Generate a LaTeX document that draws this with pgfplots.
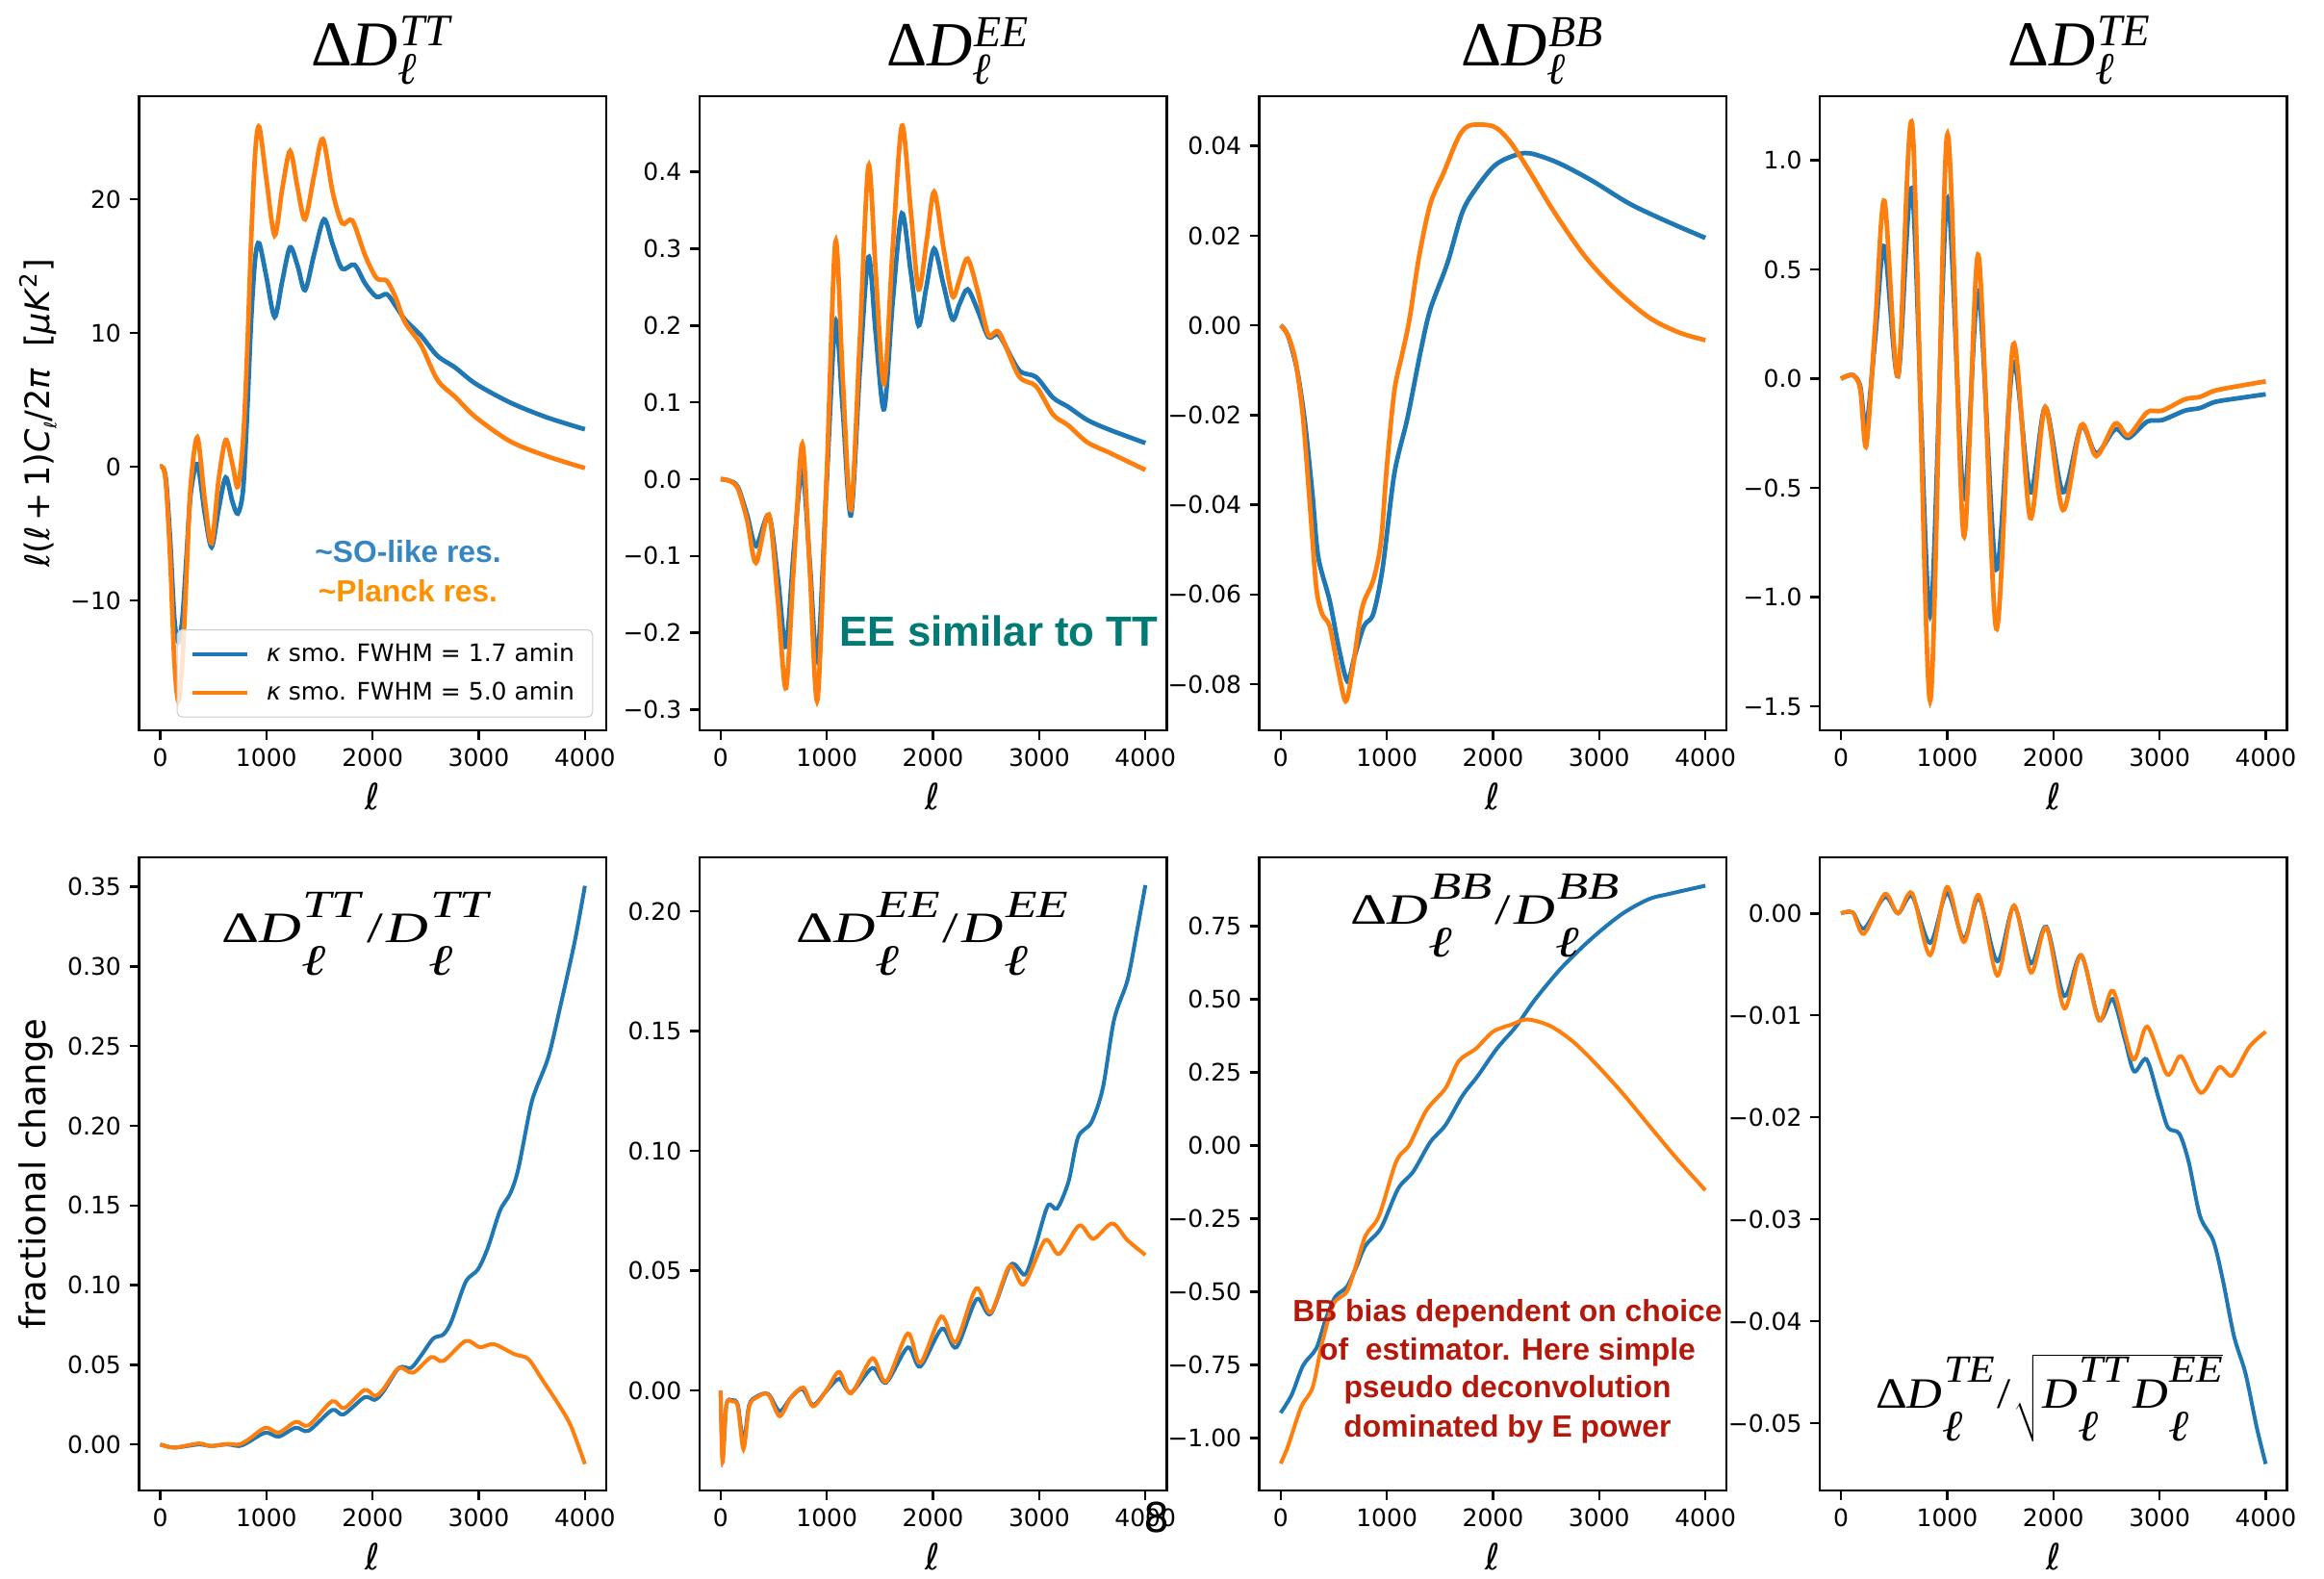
\documentclass[border=0pt]{standalone}
\usepackage{fontspec}
\setmainfont{DejaVu Sans}
\newfontfamily\annfont{Liberation Sans}
\newfontfamily\tfont{Liberation Serif}
\usepackage{graphicx}
\usepackage{pgfplots}
\pgfplotsset{compat=1.18}

\definecolor{tabblue}{HTML}{1F77B4}
\definecolor{taborange}{HTML}{FF7F0E}
\definecolor{soblue}{RGB}{52,133,192}
\definecolor{plorange}{RGB}{255,145,0}
\definecolor{eeteal}{RGB}{0,122,116}
\definecolor{bbred}{RGB}{180,24,10}
\definecolor{legframe}{RGB}{204,204,204}

\newcommand{\lell}{\textit{ℓ}}
\newcommand{\lsub}{\raisebox{-0.35ex}{\scriptsize\itshape ℓ}}
% D_ell^{XY} for the panel titles (27pt body) and for the ratio labels (18pt body)
\newcommand{\TD}[1]{\textit{D}\makebox[0pt][l]{\raisebox{-0.29em}{\fontsize{19}{19}\selectfont\textit{ℓ}}}\kern0.03em\raisebox{0.31em}{\fontsize{19}{19}\selectfont\textit{#1}}}
\newcommand{\BD}[1]{\textit{D}\makebox[0pt][l]{\raisebox{-0.75em}{\textit{ℓ}}}\kern0.03em\raisebox{0.59em}{\fontsize{16}{16}\selectfont\textit{#1}}}
\newcommand{\toptitle}[1]{\resizebox{59pt}{!}{\tfont\fontsize{27}{30}\selectfont Δ\TD{#1}}}
\newcommand{\ratio}[2]{\resizebox{#1}{\height}{\tfont\fontsize{18}{20}\selectfont Δ\BD{#2}\kern1pt/\kern1pt\BD{#2}}}

\pgfplotsset{
  panel/.style={
    scale only axis, width=194.2pt,
    xmin=-200, xmax=4200,
    xtick={0,1000,2000,3000,4000},
    xticklabels={0,1000,2000,3000,4000},
    scaled ticks=false,
    tick align=outside, tick pos=left,
    major tick length=3.9pt,
    tick style={black, line width=1pt},
    axis line style={line width=1pt},
    ticklabel style={font=\fontsize{10}{12}\selectfont},
    xlabel={\lell},
    xlabel style={at={([yshift=-27.6pt]axis description cs:0.5,0)}, anchor=center,
      font=\fontsize{15}{18}\selectfont},
    ylabel style={font=\fontsize{14.8}{18}\selectfont},
  },
  toprow/.style={panel, height=263.6pt},
  botrow/.style={panel, height=263.2pt},
  bT/.style={tabblue, line width=1.9pt, smooth},
  oT/.style={taborange, line width=1.9pt, smooth},
  bB/.style={tabblue, line width=1.6pt, smooth},
  oB/.style={taborange, line width=1.6pt, smooth},
}

\begin{document}
\begin{tikzpicture}
\fill[white] (0,0) rectangle (966pt,656pt);
\useasboundingbox (0,0) rectangle (966pt,656pt);

% ---------------- top row: Delta D_ell ----------------
\begin{axis}[toprow, at={(57.76pt,352.4pt)}, anchor=south west,
  ymin=-19.7, ymax=27.7,
  ytick={-10,0,10,20}, yticklabels={−10,0,10,20},
  ylabel={\lell(\lell\,+\,1)\textit{C}\lsub/2\textit{π}\ \ [\textit{μK}\textsuperscript{2}]},
  ylabel style={at={([xshift=-41.8pt]axis description cs:0,0.5)}, anchor=center,
    font=\fontsize{14}{17}\selectfont},
  legend style={at={(0.972,0.0203)}, anchor=south east, draw=legframe,
    rounded corners=2pt, fill=white, fill opacity=0.8, draw opacity=1, text opacity=1,
    font=\fontsize{10}{12}\selectfont, inner xsep=5.5pt, inner ysep=3.5pt, row sep=3pt,
    cells={anchor=west}, /tikz/every odd column/.append style={column sep=5pt}},
  legend image code/.code={\draw[#1, line width=1.7pt] (0pt,0pt) -- (23pt,0pt);},
]
\addplot[bT] coordinates {(0,0) (30,-0.1) (57,-1.2) (95,-5.6) (133,-11.3) (171,-13.1) (210,-11.3) (248,-6.7) (286,-2.1) (350,0.2) (420,-3.5) (484,-6.0) (550,-3.2) (617,-0.8) (680,-2.6) (731,-3.5) (781,-1.7) (819,4) (857,11) (895,15.6) (933,16.7) (1000,14.2) (1078,11.2) (1150,13.9) (1223,16.4) (1295,15.0) (1364,13.2) (1450,15.9) (1543,18.5) (1625,16.6) (1714,14.8) (1829,15.1) (1930,13.7) (2038,12.7) (2134,12.9) (2220,12.0) (2305,11.0) (2457,9.8) (2610,8.3) (2781,7.4) (2972,6.2) (3296,4.8) (3638,3.7) (4000,2.8)};
\addlegendentry{\textit{κ} smo. FWHM = 1.7 amin}
\addplot[oT] coordinates {(0,0) (30,-0.1) (57,-1.5) (95,-7) (133,-14.5) (171,-17.5) (210,-14.5) (248,-8) (286,-1.5) (350,2.2) (420,-2.5) (484,-5.7) (550,-1.0) (617,2.0) (680,0.2) (731,-1.5) (781,2) (819,8.5) (857,17) (895,23.5) (933,25.4) (1000,21.5) (1078,17.3) (1150,20.8) (1223,23.6) (1295,20.8) (1364,18.5) (1450,21.8) (1531,24.5) (1625,20.5) (1714,18.2) (1810,18.4) (1930,15.8) (2038,14.1) (2134,13.9) (2220,12.6) (2305,10.8) (2457,9.1) (2610,6.5) (2781,5.2) (2972,3.7) (3296,1.9) (3638,0.8) (4000,-0.1)};
\addlegendentry{\textit{κ} smo. FWHM = 5.0 amin}
\end{axis}

\begin{axis}[toprow, at={(290.72pt,352.4pt)}, anchor=south west,
  ymin=-0.327, ymax=0.4985,
  ytick={-0.3,-0.2,-0.1,0,0.1,0.2,0.3,0.4},
  yticklabels={−0.3,−0.2,−0.1,0.0,0.1,0.2,0.3,0.4},
]
\addplot[bT] coordinates {(0,0) (80,-0.002) (161,-0.010) (250,-0.047) (333,-0.087) (454,-0.047) (540,-0.13) (615,-0.218) (690,-0.09) (769,0.012) (840,-0.11) (912,-0.235) (1000,0.0) (1081,0.205) (1150,0.09) (1227,-0.047) (1310,0.14) (1392,0.289) (1460,0.19) (1539,0.091) (1620,0.23) (1707,0.346) (1790,0.27) (1864,0.200) (1937,0.25) (2011,0.300) (2097,0.254) (2183,0.208) (2250,0.228) (2326,0.247) (2420,0.22) (2522,0.185) (2623,0.187) (2809,0.142) (2970,0.133) (3131,0.106) (3274,0.094) (3453,0.077) (3667,0.064) (4000,0.047)};
\addplot[oT] coordinates {(0,0) (80,-0.002) (161,-0.012) (250,-0.054) (333,-0.109) (454,-0.046) (540,-0.16) (615,-0.272) (690,-0.11) (769,0.046) (840,-0.12) (912,-0.287) (1000,0.01) (1081,0.309) (1150,0.13) (1227,-0.040) (1310,0.18) (1392,0.408) (1460,0.27) (1539,0.124) (1620,0.30) (1707,0.460) (1790,0.35) (1864,0.247) (1940,0.31) (2011,0.374) (2100,0.30) (2183,0.238) (2250,0.26) (2326,0.287) (2420,0.245) (2522,0.188) (2623,0.191) (2809,0.134) (2970,0.121) (3131,0.084) (3274,0.070) (3453,0.048) (3667,0.034) (4000,0.012)};
\end{axis}

\begin{axis}[toprow, at={(523.48pt,352.4pt)}, anchor=south west,
  ymin=-0.0903, ymax=0.0511,
  ytick={-0.08,-0.06,-0.04,-0.02,0,0.02,0.04},
  yticklabels={−0.08,−0.06,−0.04,−0.02,0.00,0.02,0.04},
]
\addplot[bT] coordinates {(0,0) (68,-0.0022) (157,-0.0102) (229,-0.0217) (300,-0.0378) (354,-0.0516) (462,-0.0614) (551,-0.0723) (630,-0.0794) (694,-0.074) (784,-0.0671) (873,-0.0643) (962,-0.0539) (1070,-0.0332) (1195,-0.0206) (1320,-0.0056) (1410,0.0036) (1571,0.0139) (1714,0.0254) (1857,0.0311) (2018,0.0357) (2179,0.0377) (2340,0.0384) (2608,0.0363) (2930,0.0323) (3288,0.0271) (3646,0.0231) (4000,0.0195)};
\addplot[oT] coordinates {(0,0) (68,-0.0022) (140,-0.0079) (211,-0.0206) (283,-0.0424) (336,-0.0585) (390,-0.0643) (462,-0.0671) (533,-0.0757) (612,-0.0838) (676,-0.0769) (766,-0.0631) (873,-0.0568) (945,-0.0482) (998,-0.0321) (1070,-0.0148) (1141,-0.0068) (1213,0.0013) (1302,0.0151) (1410,0.0271) (1535,0.0340) (1678,0.0421) (1785,0.0446) (2000,0.0444) (2143,0.0415) (2322,0.0352) (2573,0.0254) (2859,0.0156) (3145,0.0082) (3467,0.0018) (3753,-0.0016) (4000,-0.0033)};
\end{axis}

\begin{axis}[toprow, at={(756.4pt,352.4pt)}, anchor=south west,
  ymin=-1.609, ymax=1.293,
  ytick={-1.5,-1,-0.5,0,0.5,1},
  yticklabels={−1.5,−1.0,−0.5,0.0,0.5,1.0},
]
\addplot[bT] coordinates {(0,0) (110,0.017) (181,-0.035) (238,-0.224) (323,0.19) (409,0.606) (537,0.012) (672,0.856) (839,-1.085) (999,0.823) (1156,-0.542) (1294,0.401) (1462,-0.873) (1622,0.075) (1782,-0.519) (1924,-0.13) (2091,-0.519) (2262,-0.219) (2404,-0.342) (2582,-0.231) (2706,-0.271) (2884,-0.196) (3026,-0.189) (3239,-0.146) (3382,-0.134) (3524,-0.106) (3773,-0.087) (4000,-0.071)};
\addplot[oT] coordinates {(0,0) (110,0.017) (181,-0.047) (238,-0.307) (323,0.25) (409,0.814) (537,0.012) (672,1.156) (839,-1.474) (999,1.116) (1156,-0.719) (1294,0.566) (1462,-1.144) (1622,0.158) (1782,-0.637) (1924,-0.13) (2091,-0.601) (2262,-0.212) (2404,-0.354) (2582,-0.205) (2706,-0.259) (2884,-0.153) (3026,-0.146) (3239,-0.094) (3382,-0.083) (3524,-0.054) (3773,-0.031) (4000,-0.012)};
\end{axis}

% ---------------- bottom row: fractional change ----------------
\begin{axis}[botrow, at={(57.76pt,36.4pt)}, anchor=south west,
  ymin=-0.0289, ymax=0.3685,
  ytick={0,0.05,0.1,0.15,0.2,0.25,0.3,0.35},
  yticklabels={0.00,0.05,0.10,0.15,0.20,0.25,0.30,0.35},
  ylabel={fractional change},
  ylabel style={at={([xshift=-43pt]axis description cs:0,0.5)}, anchor=center},
]
\addplot[bB] coordinates {(0,0) (133,-0.002) (362,0) (476,-0.001) (629,0) (743,-0.001) (819,0.001) (991,0.0074) (1116,0.0049) (1276,0.0105) (1398,0.0086) (1619,0.0216) (1726,0.0188) (1924,0.0296) (2019,0.028) (2096,0.0327) (2248,0.048) (2362,0.048) (2457,0.0558) (2572,0.0665) (2667,0.069) (2743,0.0773) (2877,0.102) (2991,0.1097) (3086,0.1235) (3200,0.1467) (3296,0.1574) (3372,0.1728) (3486,0.2114) (3543,0.2237) (3658,0.2437) (3772,0.276) (3905,0.316) (4000,0.3506)};
\addplot[oB] coordinates {(0,0) (133,-0.002) (362,0.0006) (476,-0.001) (629,0.0003) (743,0) (838,0.0034) (991,0.0105) (1116,0.0074) (1276,0.0142) (1398,0.012) (1619,0.0271) (1733,0.0228) (1924,0.0342) (2019,0.0305) (2096,0.0342) (2248,0.048) (2381,0.045) (2553,0.0548) (2667,0.0524) (2877,0.065) (3010,0.061) (3143,0.0629) (3334,0.0567) (3467,0.0536) (3600,0.0404) (3753,0.025) (3867,0.0117) (4000,-0.0123)};
\end{axis}

\begin{axis}[botrow, at={(290.72pt,36.4pt)}, anchor=south west,
  ymin=-0.0417, ymax=0.2225,
  ytick={0,0.05,0.1,0.15,0.2},
  yticklabels={0.00,0.05,0.10,0.15,0.20},
]
\addplot[bB] coordinates {(0,0) (18,-0.028) (54,-0.006) (107,-0.004) (161,-0.006) (215,-0.0213) (269,-0.006) (340,-0.0025) (448,-0.0014) (555,-0.0086) (662,-0.0029) (770,0.0006) (870,-0.006) (1003,0.0002) (1117,0.0049) (1228,-0.0008) (1429,0.0094) (1558,0.0033) (1762,0.018) (1880,0.01) (2084,0.0258) (2220,0.018) (2410,0.0381) (2543,0.032) (2732,0.0525) (2865,0.0484) (2954,0.0586) (3080,0.077) (3169,0.076) (3277,0.0873) (3366,0.1057) (3491,0.1119) (3599,0.1262) (3706,0.1549) (3832,0.1713) (3921,0.1918) (4000,0.2109)};
\addplot[oB] coordinates {(0,0) (18,-0.03) (54,-0.006) (107,-0.0045) (161,-0.0066) (215,-0.0244) (269,-0.0066) (340,-0.0029) (448,-0.0016) (555,-0.0107) (662,-0.0029) (780,0.0012) (870,-0.0066) (1003,0.0006) (1117,0.0078) (1228,-0.0012) (1429,0.0135) (1558,0.0037) (1762,0.0238) (1880,0.0115) (2077,0.0309) (2213,0.0201) (2406,0.0426) (2543,0.0326) (2721,0.052) (2854,0.0443) (3055,0.0627) (3187,0.057) (3377,0.0689) (3509,0.0633) (3688,0.0697) (3832,0.0627) (4000,0.0566)};
\end{axis}

\begin{axis}[botrow, at={(523.48pt,36.4pt)}, anchor=south west,
  ymin=-1.179, ymax=0.985,
  ytick={-1,-0.75,-0.5,-0.25,0,0.25,0.5,0.75},
  yticklabels={−1.00,−0.75,−0.50,−0.25,0.00,0.25,0.50,0.75},
]
\addplot[bB] coordinates {(0,-0.914) (104,-0.852) (211,-0.752) (336,-0.693) (426,-0.592) (515,-0.517) (623,-0.483) (712,-0.416) (801,-0.341) (945,-0.282) (1106,-0.148) (1249,-0.089) (1410,0.012) (1553,0.070) (1714,0.171) (1857,0.238) (2036,0.331) (2215,0.406) (2394,0.498) (2644,0.607) (2930,0.708) (3217,0.792) (3467,0.842) (3646,0.859) (4000,0.888)};
\addplot[oB] coordinates {(0,-1.087) (68,-1.029) (193,-0.894) (301,-0.827) (390,-0.676) (497,-0.542) (623,-0.5) (712,-0.408) (801,-0.307) (927,-0.24) (1088,-0.055) (1213,0.003) (1374,0.121) (1553,0.196) (1678,0.289) (1839,0.331) (2000,0.389) (2179,0.414) (2322,0.431) (2537,0.409) (2751,0.356) (2966,0.280) (3217,0.180) (3467,0.070) (3718,-0.039) (4000,-0.153)};
\end{axis}

\begin{axis}[botrow, at={(756.4pt,36.4pt)}, anchor=south west,
  ymin=-0.0566, ymax=0.0055,
  ytick={-0.05,-0.04,-0.03,-0.02,-0.01,0},
  yticklabels={−0.05,−0.04,−0.03,−0.02,−0.01,0.00},
]
\addplot[bB] coordinates {(0,0) (110,0.0001) (217,-0.0015) (412,0.0016) (537,0) (669,0.0017) (839,-0.0029) (999,0.002) (1156,-0.0025) (1298,0.0015) (1472,-0.0047) (1629,0.0007) (1789,-0.0049) (1934,-0.0013) (2102,-0.0081) (2262,-0.0041) (2429,-0.0104) (2557,-0.0084) (2671,-0.0123) (2760,-0.0155) (2877,-0.0143) (2991,-0.0181) (3079,-0.021) (3186,-0.0216) (3275,-0.0244) (3382,-0.0297) (3506,-0.0321) (3595,-0.0359) (3702,-0.0415) (3809,-0.0451) (3915,-0.0504) (4000,-0.054)};
\addplot[oB] coordinates {(0,0) (110,0.0001) (217,-0.002) (412,0.0019) (537,0) (669,0.002) (839,-0.0041) (999,0.0026) (1156,-0.0028) (1298,0.0018) (1472,-0.0061) (1629,0.0008) (1789,-0.0058) (1934,-0.0014) (2102,-0.0093) (2262,-0.0041) (2429,-0.0105) (2564,-0.0076) (2749,-0.0143) (2884,-0.0111) (3072,-0.0158) (3204,-0.014) (3389,-0.0176) (3560,-0.0151) (3684,-0.0159) (3844,-0.0131) (4000,-0.0116)};
\end{axis}

% ---------------- panel titles ----------------
\begin{scope}[every node/.style={anchor=base, inner sep=0pt}]
\node at (158.8pt,628.56pt) {\toptitle{TT}};
\node at (397.9pt,628.56pt) {\toptitle{EE}};
\node at (636.8pt,628.56pt) {\toptitle{BB}};
\node at (864pt,628.56pt) {\toptitle{TE}};
\node at (148.1pt,264pt) {\ratio{112pt}{TT}};
\node at (387.6pt,264pt) {\ratio{113pt}{EE}};
\node at (617.2pt,271.6pt) {\ratio{111.5pt}{BB}};
\node at (851.8pt,70.6pt) {\resizebox{144.4pt}{\height}{\tfont\fontsize{18}{20}\selectfont Δ\BD{TE}\kern1pt/\kern1pt$\sqrt{\hbox{\BD{TT}\kern1pt\BD{EE}}}$}};
\end{scope}

% ---------------- annotations ----------------
\begin{scope}[every node/.style={anchor=base, inner sep=0pt}]
\node[soblue, font=\annfont\bfseries\fontsize{12.7}{15}\selectfont] at (169.6pt,422.3pt) {\textasciitilde SO-like res.};
\node[plorange, font=\annfont\bfseries\fontsize{12.7}{15}\selectfont] at (169.6pt,405.7pt) {\textasciitilde Planck res.};
\node[eeteal, font=\annfont\bfseries\fontsize{17.5}{20}\selectfont] at (415.2pt,387.3pt) {EE similar to TT};
\node[bbred, font=\annfont\bfseries\fontsize{12.75}{15}\selectfont] at (626.6pt,106.8pt) {BB bias dependent on choice};
\node[bbred, font=\annfont\bfseries\fontsize{12.75}{15}\selectfont] at (626.6pt,90.8pt) {of \ estimator. Here simple};
\node[bbred, font=\annfont\bfseries\fontsize{12.75}{15}\selectfont] at (626.6pt,74.8pt) {pseudo deconvolution};
\node[bbred, font=\annfont\bfseries\fontsize{12.75}{15}\selectfont] at (626.6pt,58.8pt) {dominated by E power};
\end{scope}
\node[anchor=center, inner sep=0pt, font=\fontsize{17}{17}\selectfont] at (480.7pt,25pt) {8};
\end{tikzpicture}
\end{document}
